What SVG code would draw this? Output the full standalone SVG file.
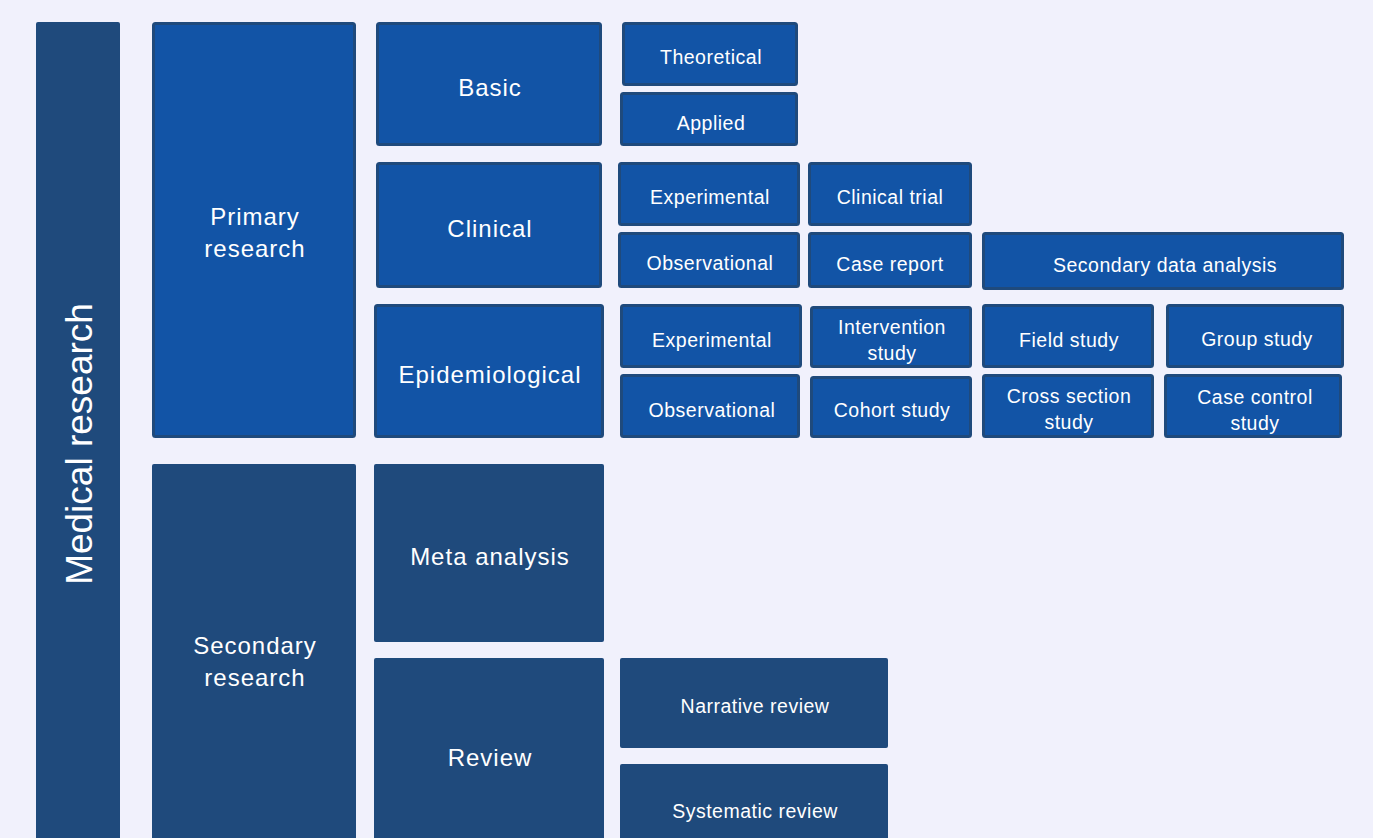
<svg xmlns="http://www.w3.org/2000/svg" width="1373" height="838" viewBox="0 0 1373 838">
<style>
text{font-family:"Liberation Sans",Arial,sans-serif;fill:#ffffff;text-anchor:middle;dominant-baseline:central}
.d{fill:#1f4a7c}
.b{fill:#1254a6;stroke:#1f4a7c;stroke-width:3}
.s{font-size:19.5px;letter-spacing:0.5px}
.m{font-size:24px;letter-spacing:1px}
.l{font-size:37px}
</style>
<rect width="1373" height="838" fill="#f1f1fc"/>
<g id="medical"><rect class="d" x="36" y="22" width="84" height="830" rx="2"/><text class="l" transform="translate(79,444) rotate(-90)">Medical research</text></g>
<g id="primary"><rect class="b" x="153.5" y="23.5" width="201" height="413" rx="2"/><text class="m" x="255" y="216">Primary</text><text class="m" x="255" y="248">research</text></g>
<g id="secondary"><rect class="d" x="152" y="464" width="204" height="390" rx="2"/><text class="m" x="255" y="645">Secondary</text><text class="m" x="255" y="677">research</text></g>
<g id="basic"><rect class="b" x="377.5" y="23.5" width="223" height="121" rx="2"/><text class="m" x="490" y="87">Basic</text></g>
<g id="clinical"><rect class="b" x="377.5" y="163.5" width="223" height="123" rx="2"/><text class="m" x="490" y="228">Clinical</text></g>
<g id="epidemiological"><rect class="b" x="375.5" y="305.5" width="227" height="131" rx="2"/><text class="m" x="490" y="374">Epidemiological</text></g>
<g id="meta"><rect class="d" x="374" y="464" width="230" height="178" rx="2"/><text class="m" x="490" y="556">Meta analysis</text></g>
<g id="review"><rect class="d" x="374" y="658" width="230" height="196" rx="2"/><text class="m" x="490" y="757">Review</text></g>
<g id="theoretical"><rect class="b" x="623.5" y="23.5" width="173" height="61" rx="2"/><text class="s" x="711" y="57">Theoretical</text></g>
<g id="applied"><rect class="b" x="621.5" y="93.5" width="175" height="51" rx="2"/><text class="s" x="711" y="123">Applied</text></g>
<g id="clin-experimental"><rect class="b" x="619.5" y="163.5" width="179" height="61" rx="2"/><text class="s" x="710" y="197">Experimental</text></g>
<g id="clinical-trial"><rect class="b" x="809.5" y="163.5" width="161" height="61" rx="2"/><text class="s" x="890" y="197">Clinical trial</text></g>
<g id="clin-observational"><rect class="b" x="619.5" y="233.5" width="179" height="53" rx="2"/><text class="s" x="710" y="263">Observational</text></g>
<g id="case-report"><rect class="b" x="809.5" y="233.5" width="161" height="53" rx="2"/><text class="s" x="890" y="264">Case report</text></g>
<g id="secondary-data"><rect class="b" x="983.5" y="233.5" width="359" height="55" rx="2"/><text class="s" x="1165" y="265">Secondary data analysis</text></g>
<g id="epi-experimental"><rect class="b" x="621.5" y="305.5" width="179" height="61" rx="2"/><text class="s" x="712" y="340">Experimental</text></g>
<g id="intervention"><rect class="b" x="811.5" y="307.5" width="159" height="59" rx="2"/><text class="s" x="892" y="327">Intervention</text><text class="s" x="892" y="353">study</text></g>
<g id="field"><rect class="b" x="983.5" y="305.5" width="169" height="61" rx="2"/><text class="s" x="1069" y="340">Field study</text></g>
<g id="group"><rect class="b" x="1167.5" y="305.5" width="175" height="61" rx="2"/><text class="s" x="1257" y="339">Group study</text></g>
<g id="epi-observational"><rect class="b" x="621.5" y="375.5" width="177" height="61" rx="2"/><text class="s" x="712" y="410">Observational</text></g>
<g id="cohort"><rect class="b" x="811.5" y="377.5" width="159" height="59" rx="2"/><text class="s" x="892" y="410">Cohort study</text></g>
<g id="cross-section"><rect class="b" x="983.5" y="375.5" width="169" height="61" rx="2"/><text class="s" x="1069" y="396">Cross section</text><text class="s" x="1069" y="422">study</text></g>
<g id="case-control"><rect class="b" x="1165.5" y="375.5" width="175" height="61" rx="2"/><text class="s" x="1255" y="397">Case control</text><text class="s" x="1255" y="423">study</text></g>
<g id="narrative"><rect class="d" x="620" y="658" width="268" height="90" rx="2"/><text class="s" x="755" y="706">Narrative review</text></g>
<g id="systematic"><rect class="d" x="620" y="764" width="268" height="90" rx="2"/><text class="s" x="755" y="811">Systematic review</text></g>
<g id="connectors"></g>
</svg>
